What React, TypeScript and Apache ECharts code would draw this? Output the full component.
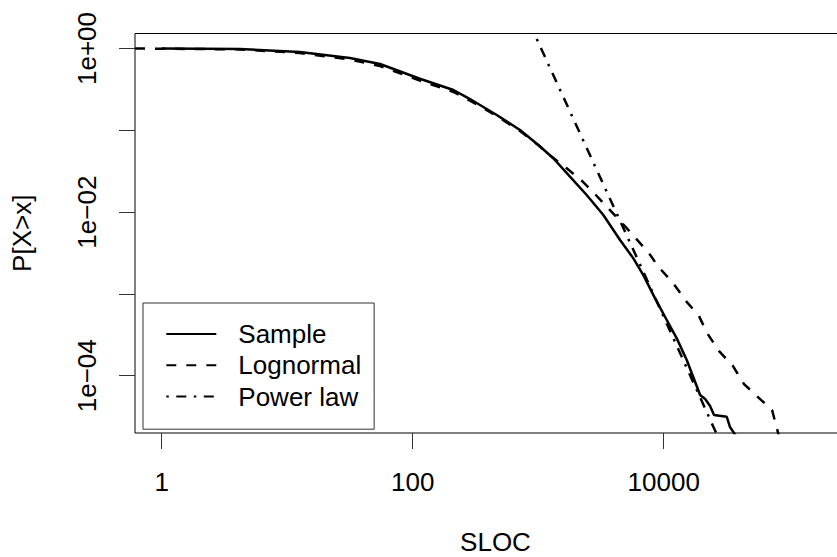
import React, { useEffect, useRef } from "react";
import * as echarts from "echarts";

// Empirical CCDF of the sample (SLOC vs P[X>x])
const sampleX = [1, 4.2, 12.6, 31.6, 54.9, 114, 211, 286, 467, 716, 1002, 1319, 1791, 2432, 3303, 4486, 5727, 6877, 8531, 10570, 12700, 15250, 19500, 21380, 23400, 25180, 31770, 33750, 37670];
const sampleY = [1, 0.985, 0.906, 0.765, 0.647, 0.427, 0.311, 0.241, 0.154, 0.101, 0.0661, 0.0455, 0.0271, 0.0162, 0.00922, 0.00456, 0.00272, 0.0017, 0.000883, 0.00048, 0.000286, 0.000156, 5.81e-5, 5.19e-5, 4.26e-5, 3.31e-5, 3.15e-5, 2.36e-5, 1.83e-5];

// Lognormal fit
const lognormX = [0.613, 1, 4.2, 12.6, 31.6, 54.9, 114, 211, 286, 467, 716, 1000, 1281, 1687, 2222, 2836, 3666, 4655, 5988, 7640, 9060, 11860, 15060, 19100, 22130, 27600, 35660, 43640, 57500, 72980, 81500, 84500];
const lognormY = [1, 0.9945, 0.975, 0.881, 0.734, 0.611, 0.406, 0.294, 0.231, 0.15, 0.098, 0.066, 0.0475, 0.0343, 0.0242, 0.0166, 0.0109, 0.00736, 0.00479, 0.00314, 0.00215, 0.00136, 0.000818, 0.000537, 0.000333, 0.0002, 0.000131, 7.9e-5, 5.33e-5, 3.81e-5, 2.0e-5, 1.64e-5];

// Power law fit
const powerX = [973, 6683, 28200];
const powerY = [1.31, 0.00206, 1.55e-5];

const xTicks = [1, 100, 10000];
const xTickLabels = ["1", "100", "10000"];
const yTicks = [1, 0.1, 0.01, 0.001, 0.0001];
const yLabelTicks = [1, 0.01, 0.0001];
const yTickLabels = ["1e+00", "1e\u221202", "1e\u221204"];

const seriesNames = ["Sample", "Lognormal", "Power law"];

const FONT = "'Liberation Sans', Arial, Helvetica, sans-serif";

function pairs(xs: number[], ys: number[]) {
  return xs.map((x, i) => [x, ys[i]]);
}

export default function App() {
  const ref = useRef<HTMLDivElement>(null);
  useEffect(() => {
    document.body.style.margin = "0";
    if (!ref.current) return;
    const chart = echarts.init(ref.current, undefined, { renderer: "svg" });
    const lw = 2.5;
    const option: any = {
      animation: false,
      backgroundColor: "#fff",
      textStyle: { fontFamily: FONT, color: "#000" },
      grid: {
        left: 135,
        top: 33.5,
        right: -19,
        bottom: 124,
        show: true,
        borderColor: "#000",
        borderWidth: 1,
        backgroundColor: "transparent",
        containLabel: false,
        outerBoundsMode: "none",
      },
      legend: {
        orient: "vertical",
        left: 143,
        top: 303,
        itemWidth: 50,
        itemHeight: 26,
        itemGap: 5.3,
        padding: [18, 13, 19.6, 22.3],
        borderColor: "#333",
        borderWidth: 1,
        backgroundColor: "#fff",
        itemStyle: { opacity: 0, borderWidth: 0 },
        textStyle: { fontSize: 26, color: "#000", fontFamily: FONT, padding: [0, 0, 0, 17] },
        data: seriesNames,
      },
      xAxis: {
        type: "log",
        logBase: 10,
        min: 0.6126,
        max: 340400,
        name: "SLOC",
        nameLocation: "middle",
        nameGap: 96,
        nameTextStyle: { fontSize: 26, color: "#000", fontFamily: FONT },
        axisLine: { show: false },
        axisTick: { show: true, length: 16, lineStyle: { color: "#333", width: 1 }, customValues: xTicks },
        axisLabel: {
          show: true,
          fontSize: 26,
          color: "#000",
          fontFamily: FONT,
          margin: 36,
          customValues: xTicks,
          formatter: (v: number) => {
            const e = Math.round(Math.log10(v));
            const idx = xTicks.findIndex((t) => Math.round(Math.log10(t)) === e);
            return idx >= 0 ? xTickLabels[idx] : "";
          },
        },
        splitLine: { show: false },
        minorTick: { show: false },
      },
      yAxis: {
        type: "log",
        logBase: 10,
        min: 1.995e-5,
        max: 1.525,
        name: "P[X>x]",
        nameLocation: "middle",
        nameGap: 100,
        nameTextStyle: { fontSize: 26, color: "#000", fontFamily: FONT },
        axisLine: { show: false },
        axisTick: { show: true, length: 16, lineStyle: { color: "#333", width: 1 }, customValues: yTicks },
        axisLabel: {
          show: true,
          rotate: 90,
          fontSize: 26,
          color: "#000",
          fontFamily: FONT,
          margin: 35,
          customValues: yLabelTicks,
          formatter: (v: number) => {
            const e = Math.round(Math.log10(v));
            const idx = yLabelTicks.findIndex((t) => Math.round(Math.log10(t)) === e);
            return idx >= 0 ? yTickLabels[idx] : "";
          },
        },
        splitLine: { show: false },
        minorTick: { show: false },
      },
      series: [
        {
          name: seriesNames[0],
          type: "line",
          symbol: "none",
          clip: true,
          data: pairs(sampleX, sampleY),
          lineStyle: { color: "#000", width: lw, type: "solid" },
          itemStyle: { color: "#000" },
        },
        {
          name: seriesNames[1],
          type: "line",
          symbol: "none",
          clip: true,
          data: pairs(lognormX, lognormY),
          lineStyle: { color: "#000", width: lw, type: [10, 10] },
          itemStyle: { color: "#000" },
        },
        {
          name: seriesNames[2],
          type: "line",
          symbol: "none",
          clip: true,
          data: pairs(powerX, powerY),
          lineStyle: { color: "#000", width: lw, type: [2.5, 7.5, 10, 7.5] },
          itemStyle: { color: "#000" },
        },
      ],
    };
    chart.setOption(option);
    return () => chart.dispose();
  }, []);
  return (
    <div
      ref={ref}
      style={{ position: "fixed", left: 0, top: 0, width: 837, height: 557, background: "#fff" }}
    />
  );
}
